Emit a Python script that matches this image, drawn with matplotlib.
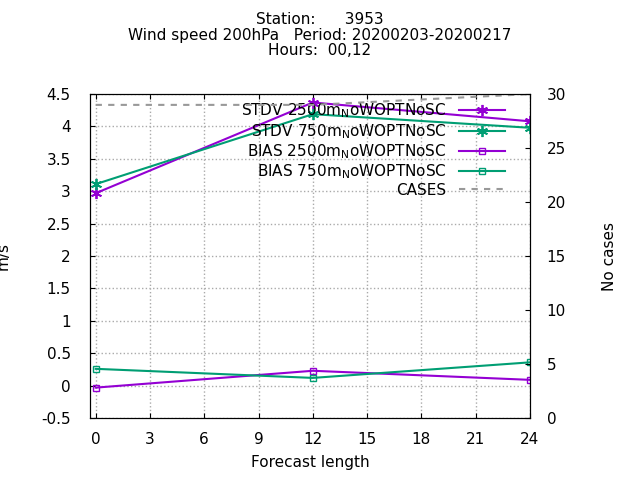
import matplotlib
matplotlib.use("Agg")
from matplotlib import pyplot as plt

hours = [0, 12, 24]
stdv_2500 = [2.97, 4.37, 4.08]
stdv_750 = [3.11, 4.19, 3.98]
bias_2500 = [-0.03, 0.23, 0.09]
bias_750 = [0.26, 0.12, 0.36]
cases = [29, 29, 30]

purple = "#9400d3"
green = "#009e73"

plt.rcParams["font.family"] = "DejaVu Sans"
plt.rcParams["font.size"] = 11

fig = plt.figure(figsize=(6.4, 4.8), dpi=100)
ax = fig.add_axes([0.141, 0.129, 0.687, 0.675])
ax2 = ax.twinx()

sub = "$_{\\rm N}$"
star = "$\\ast$"
l1, = ax.plot(hours, stdv_2500, color=purple, marker=(6, 2, 0), mew=1.3, ms=8, lw=1.5,
              label="STDV 2500m" + sub + "oWOPTNoSC")
l2, = ax.plot(hours, stdv_750, color=green, marker=(6, 2, 0), mew=1.3, ms=8, lw=1.5,
              label="STDV 750m" + sub + "oWOPTNoSC")
l3, = ax.plot(hours, bias_2500, color=purple, marker="s", mfc="none", ms=5, lw=1.5,
              label="BIAS 2500m" + sub + "oWOPTNoSC")
l4, = ax.plot(hours, bias_750, color=green, marker="s", mfc="none", ms=5, lw=1.5,
              label="BIAS 750m" + sub + "oWOPTNoSC")
l5, = ax2.plot(hours, cases, color="#999999", ls=(0, (3, 3)), lw=1.5, label="CASES")

ax.set_xlim(-0.3, 24)
ax.set_ylim(-0.5, 4.5)
ax2.set_ylim(0, 30)
ax.set_xticks(range(0, 25, 3))
ax.set_yticks([-0.5, 0, 0.5, 1, 1.5, 2, 2.5, 3, 3.5, 4, 4.5])
ax.set_yticklabels(["-0.5", "0", "0.5", "1", "1.5", "2", "2.5", "3", "3.5", "4", "4.5"])
ax2.set_yticks(range(0, 31, 5))
ax.grid(True, color="#aaaaaa", ls=":", lw=1)
ax.tick_params(axis="y", direction="in", pad=14)
ax.tick_params(axis="x", direction="in", top=True, pad=10)
ax2.tick_params(direction="in", pad=12)
ax.set_xlabel("Forecast length", labelpad=6)
ax.set_ylabel("m/s", labelpad=22)
ax2.set_ylabel("No cases", labelpad=26)

ax.legend(handles=[l1, l2, l3, l4, l5], loc="upper right", frameon=False,
          markerfirst=False, handlelength=3, labelspacing=0.1,
          borderaxespad=0.1, fontsize=11, bbox_to_anchor=(0.96, 1.0))

fig.suptitle("Station:      3953\nWind speed 200hPa   Period: 20200203-20200217\nHours:  00,12",
             y=0.975, fontsize=11, linespacing=1.05)

fig.savefig("out.png", dpi=100)
